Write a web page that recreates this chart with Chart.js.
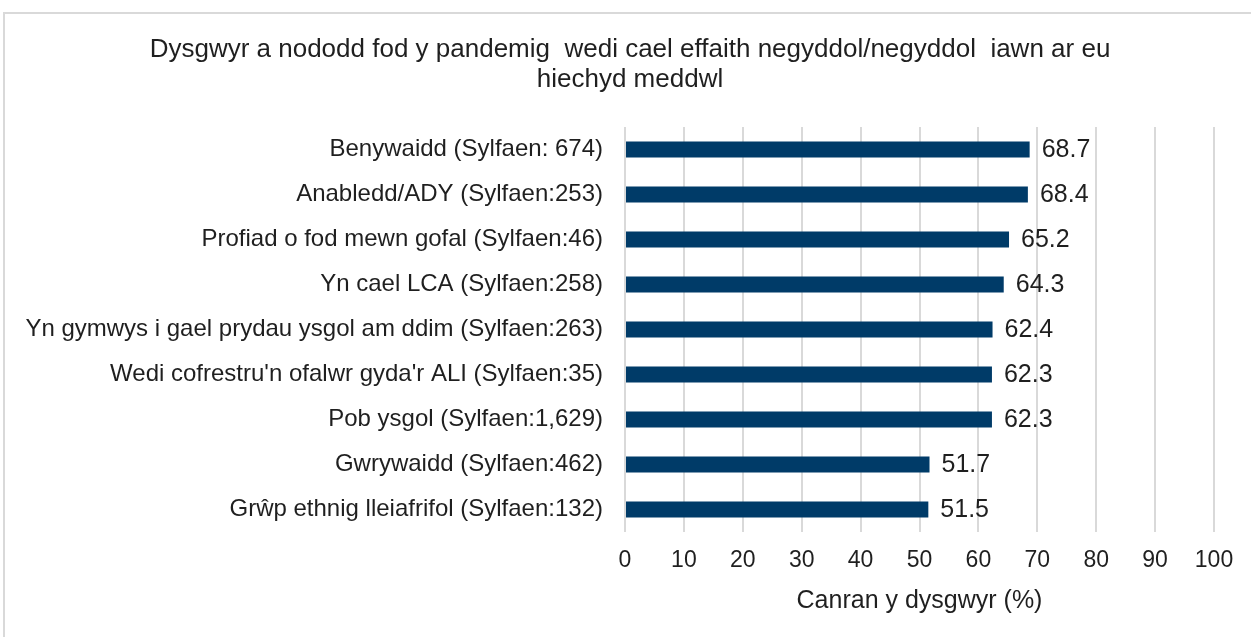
<!DOCTYPE html>
<html>
<head>
<meta charset="utf-8">
<script src="https://cdn.jsdelivr.net/npm/chart.js@4/dist/chart.umd.min.js"></script>
<style>
  html, body { margin: 0; padding: 0; background: #fff; overflow: hidden; }
  #frame {
    position: absolute; left: 3px; top: 12px; width: 1270px; height: 650px;
    border: 2px solid #d9d9d9; box-sizing: border-box;
  }
  #wrap { position: absolute; left: 0; top: 0; width: 1251px; height: 637px; }
</style>
</head>
<body>
<div id="frame"></div>
<div id="wrap"><canvas id="chart" width="1251" height="637"></canvas></div>
<script>
// Chart data
const categories = [
    'Benywaidd (Sylfaen: 674)',
    'Anabledd/ADY (Sylfaen:253)',
    'Profiad o fod mewn gofal (Sylfaen:46)',
    'Yn cael LCA (Sylfaen:258)',
    'Yn gymwys i gael prydau ysgol am ddim (Sylfaen:263)',
    "Wedi cofrestru'n ofalwr gyda'r ALI (Sylfaen:35)",
    'Pob ysgol (Sylfaen:1,629)',
    'Gwrywaidd (Sylfaen:462)',
    'Grŵp ethnig lleiafrifol (Sylfaen:132)'
];
const percentValues = [68.7, 68.4, 65.2, 64.3, 62.4, 62.3, 62.3, 51.7, 51.5];
const chartTitle = ['Dysgwyr a nododd fod y pandemig  wedi cael effaith negyddol/negyddol  iawn ar eu', 'hiechyd meddwl'];
const xAxisTitle = 'Canran y dysgwyr (%)';

const FONT = "'Liberation Sans', Arial, sans-serif";
const TEXT_COLOR = '#1f1f1f';

// Title, centred on the whole frame rather than the chart box
const titleLines = {
    id: 'titleLines',
    afterDraw(chart) {
        const ctx = chart.ctx;
        ctx.save();
        ctx.font = '26px ' + FONT;
        ctx.fillStyle = TEXT_COLOR;
        ctx.textAlign = 'center';
        ctx.textBaseline = 'middle';
        chartTitle.forEach((line, i) => {
            ctx.fillText(line, 630, 50 + i * 30);
        });
        ctx.restore();
    }
};

// Draws the value at the end of each bar
const valueLabels = {
    id: 'valueLabels',
    afterDatasetsDraw(chart) {
        const ctx = chart.ctx;
        const meta = chart.getDatasetMeta(0);
        ctx.save();
        ctx.font = '25px ' + FONT;
        ctx.fillStyle = TEXT_COLOR;
        ctx.textAlign = 'left';
        ctx.textBaseline = 'middle';
        meta.data.forEach((bar, i) => {
            ctx.fillText(percentValues[i].toFixed(1), bar.x + 12, bar.y + 1);
        });
        ctx.restore();
    }
};

new Chart(document.getElementById('chart'), {
    type: 'bar',
    data: {
        labels: categories,
        datasets: [{
            data: percentValues,
            backgroundColor: '#003b68',
            borderWidth: 0,
            categoryPercentage: 1,
            barPercentage: 0.36
        }]
    },
    options: {
        indexAxis: 'y',
        responsive: false,
        animation: false,
        layout: {
            padding: { left: 0, right: 37, top: 127, bottom: 17 }
        },
        plugins: {
            legend: { display: false },
            tooltip: { enabled: false },
            title: { display: false }
        },
        scales: {
            x: {
                min: 0,
                max: 100,
                ticks: {
                    stepSize: 10,
                    color: TEXT_COLOR,
                    padding: 15,
                    maxRotation: 0,
                    font: { family: FONT, size: 23 }
                },
                grid: {
                    color: '#d9d9d9',
                    lineWidth: 2,
                    drawTicks: false
                },
                border: { display: false },
                title: {
                    display: true,
                    text: xAxisTitle,
                    color: TEXT_COLOR,
                    font: { family: FONT, size: 25 },
                    padding: { top: 4, bottom: 4 }
                },
                afterFit(scale) {
                    scale.height = 88;
                }
            },
            y: {
                ticks: {
                    color: TEXT_COLOR,
                    padding: 22,
                    font: { family: FONT, size: 24 }
                },
                grid: { display: false, drawTicks: false },
                border: { display: false },
                afterFit(scale) {
                    scale.width = 625;
                }
            }
        }
    },
    plugins: [valueLabels, titleLines]
});
</script>
</body>
</html>
